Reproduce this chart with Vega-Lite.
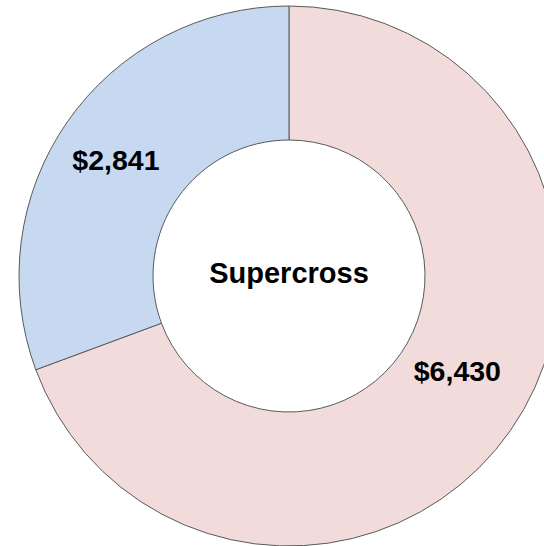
{
  "$schema": "https://vega.github.io/schema/vega-lite/v6.json",
  "autosize": "none",
  "width": 510,
  "height": 540,
  "padding": {"left": 34, "top": 6, "right": 0, "bottom": 0},
  "background": "white",
  "view": {"stroke": null},
  "data": {"values": [
    {"category": "A", "value": 6430, "label": "$6,430", "order": 1},
    {"category": "B", "value": 2841, "label": "$2,841", "order": 2}
  ]},
  "encoding": {
    "theta": {"field": "value", "type": "quantitative", "stack": true},
    "order": {"field": "order", "type": "quantitative"}
  },
  "layer": [
    {
      "mark": {"type": "arc", "outerRadius": 270, "innerRadius": 136, "stroke": "#595959", "strokeWidth": 1},
      "encoding": {
        "color": {"field": "category", "type": "nominal", "scale": {"domain": ["A", "B"], "range": ["#f2dcdb", "#c6d9f1"]}, "legend": null}
      }
    },
    {
      "mark": {"type": "text", "radius": 194, "thetaOffset": -0.088, "font": "Liberation Sans", "fontWeight": "bold", "fontSize": 28.5, "color": "black"},
      "encoding": {"text": {"condition": {"test": "datum.category === 'A'", "field": "label", "type": "nominal"}, "value": ""}}
    },
    {
      "mark": {"type": "text", "radius": 208, "thetaOffset": -0.02, "font": "Liberation Sans", "fontWeight": "bold", "fontSize": 28.5, "color": "black"},
      "encoding": {"text": {"condition": {"test": "datum.category === 'B'", "field": "label", "type": "nominal"}, "value": ""}}
    },
    {
      "data": {"values": [{"title": "Supercross"}]},
      "mark": {"type": "text", "font": "Liberation Sans", "fontWeight": "bold", "fontSize": 29, "color": "black", "baseline": "middle", "align": "center", "dy": -2},
      "encoding": {"text": {"field": "title", "type": "nominal"}, "theta": null, "order": null}
    }
  ]
}
